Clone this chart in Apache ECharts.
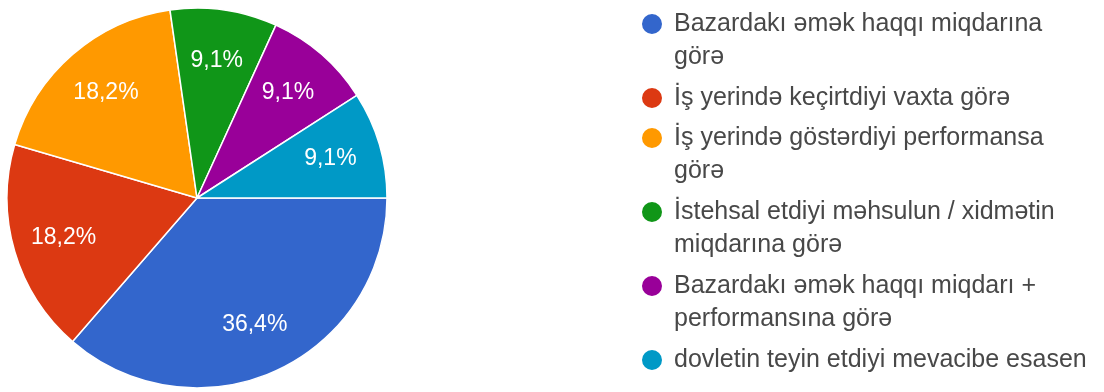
<!DOCTYPE html>
<html>
<head>
<meta charset="utf-8">
<script src="https://cdn.jsdelivr.net/npm/echarts@6/dist/echarts.min.js"></script>
<style>
html, body { margin: 0; background: #fff; }
#main { width: 1104px; height: 392px; }
</style>
</head>
<body>
<div id="main"></div>
<script>
// answers and how many people picked each one
var categories = [
    'Bazardakı əmək haqqı miqdarına görə',
    'İş yerində keçirtdiyi vaxta görə',
    'İş yerində göstərdiyi performansa görə',
    'İstehsal etdiyi məhsulun / xidmətin miqdarına görə',
    'Bazardakı əmək haqqı miqdarı + performansına görə',
    'dovletin teyin etdiyi mevacibe esasen'
];
var legendLabels = [
    'Bazardakı əmək haqqı miqdarına\ngörə',
    'İş yerində keçirtdiyi vaxta görə',
    'İş yerində göstərdiyi performansa\ngörə',
    'İstehsal etdiyi məhsulun / xidmətin\nmiqdarına görə',
    'Bazardakı əmək haqqı miqdarı +\nperformansına görə',
    'dovletin teyin etdiyi mevacibe esasen'
];
var counts = [4, 2, 2, 1, 1, 1];
var colors = ['#3366cc', '#dc3912', '#ff9900', '#109618', '#990099', '#0099c6'];

var FONT = '"Liberation Sans", Arial, sans-serif';
var LINE_H = 33;

var pieData = categories.map(function (name, i) {
    return {name: name, value: counts[i]};
});

// one legend per answer so the dot sits on the first text line
// (two-line labels get an empty line on top, so the dot lines up with line one)
var legends = [];
var iconY = 24;
legendLabels.forEach(function (label, i) {
    var twoLines = label.indexOf('\n') > -1;
    var text = twoLines ? ' \n' + label : label;
    legends.push({
        left: 640,
        top: iconY - (twoLines ? LINE_H * 1.5 : LINE_H / 2),
        padding: 0,
        orient: 'vertical',
        icon: 'circle',
        itemWidth: 22,
        itemHeight: 22,
        selectedMode: false,
        data: [categories[i]],
        formatter: function () { return text; },
        textStyle: {
            fontFamily: FONT,
            fontSize: 25,
            lineHeight: LINE_H,
            color: '#484848',
            padding: [0, 0, 0, 6]
        }
    });
    iconY += twoLines ? 74 : 40;
});

var option = {
    backgroundColor: '#fff',
    color: colors,
    animation: false,
    legend: legends,
    series: [{
        type: 'pie',
        center: [197, 198],
        radius: [0, 190],
        startAngle: 0,
        clockwise: true,
        data: pieData,
        label: {show: false},
        labelLine: {show: false},
        itemStyle: {borderColor: '#fff', borderWidth: 1.5},
        emphasis: {disabled: true}
    }, {
        // invisible copy only used to put the labels further out
        type: 'pie',
        center: [197, 198],
        radius: [0, 272],
        startAngle: 0,
        clockwise: true,
        silent: true,
        data: pieData,
        avoidLabelOverlap: false,
        itemStyle: {color: 'rgba(0,0,0,0)', borderWidth: 0},
        labelLine: {show: false},
        emphasis: {disabled: true},
        label: {
            show: true,
            position: 'inside',
            color: '#fff',
            fontFamily: FONT,
            fontSize: 23,
            formatter: function (p) {
                return p.percent.toFixed(1).replace('.', ',') + '%';
            }
        }
    }]
};

var chart = echarts.init(document.getElementById('main'));
chart.setOption(option);
window.addEventListener('resize', function () {
    chart.resize();
});
</script>
</body>
</html>
